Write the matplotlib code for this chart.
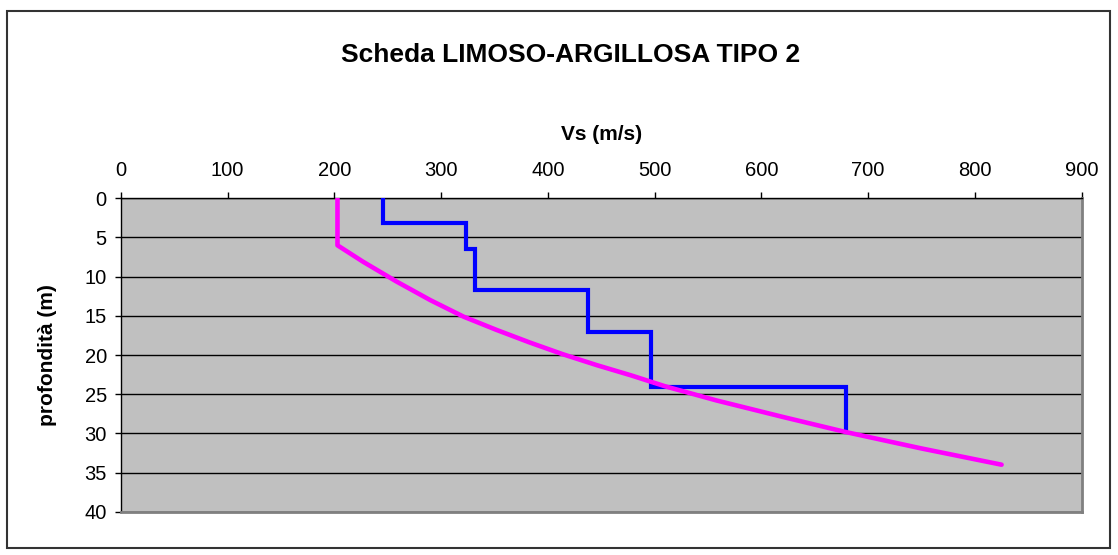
import numpy as np
import matplotlib
matplotlib.use('Agg')
import matplotlib.pyplot as plt
from matplotlib.patches import Rectangle

plt.rcParams['font.family'] = ['Liberation Sans', 'DejaVu Sans']

#data
#blue step profile: layer boundaries (m) and Vs of each layer (m/s)
layer_depth = [0, 3.2, 6.5, 11.7, 17.1, 24.1, 29.8]
layer_vs = [246, 323, 332, 438, 497, 679]
#magenta curve: depth (m) and Vs (m/s)
curve_depth = [0, 6.0, 8.1, 10.6, 13.0, 15.1, 16.8, 18.4, 19.9, 21.3, 22.6, 24.0, 25.8, 27.9, 29.8, 31.9, 34.0]
curve_vs = [203, 203, 227, 258, 290, 321, 352, 383, 414, 446, 478, 510, 558, 620, 678, 749, 825]

x_ticks = [0, 100, 200, 300, 400, 500, 600, 700, 800, 900]
y_ticks = [0, 5, 10, 15, 20, 25, 30, 35, 40]

fig = plt.figure(figsize=(11.18, 5.55), dpi=100)
#outer chart border
fig.patches.append(Rectangle((7/1118, 1-548/555), 1103/1118, 537/555, transform=fig.transFigure,
                             fill=False, edgecolor='#333333', linewidth=1.5))
ax = fig.add_axes([0.108, 0.078, 0.8595, 0.5647])
ax.set_facecolor('#c0c0c0')

#build the step outline from the layers
step_x = np.repeat(layer_vs, 2)
step_y = np.repeat(layer_depth, 2)[1:-1]
ax.plot(step_x, step_y, color='#0000ff', linewidth=3, solid_joinstyle='miter', zorder=3)
ax.plot(curve_vs, curve_depth, color='#ff00ff', linewidth=3.3, solid_capstyle='round',
        solid_joinstyle='round', zorder=4)

ax.set_xlim(0, 900)
ax.set_ylim(40, 0)
ax.set_xticks(x_ticks)
ax.set_yticks(y_ticks)
ax.xaxis.tick_top()
ax.xaxis.set_label_position('top')
ax.tick_params(axis='both', labelsize=14.5, length=4, width=1, color='black')
ax.tick_params(axis='x', pad=9)
ax.tick_params(axis='y', pad=6)
ax.yaxis.grid(True, color='black', linewidth=1)
ax.set_axisbelow(True)

for s in ['top', 'left']:
    ax.spines[s].set_color('black')
    ax.spines[s].set_linewidth(1)
for s in ['right', 'bottom']:
    ax.spines[s].set_color('#808080')
    ax.spines[s].set_linewidth(2)

ax.set_xlabel('Vs (m/s)', fontsize=15, fontweight='bold', labelpad=15)
ax.set_ylabel('profondità (m)', fontsize=15, fontweight='bold', labelpad=20)

fig.text(571/1118, 1-55/555, 'Scheda LIMOSO-ARGILLOSA TIPO 2', fontsize=19, fontweight='bold',
         ha='center', va='center')

fig.savefig('out.png', dpi=100)
